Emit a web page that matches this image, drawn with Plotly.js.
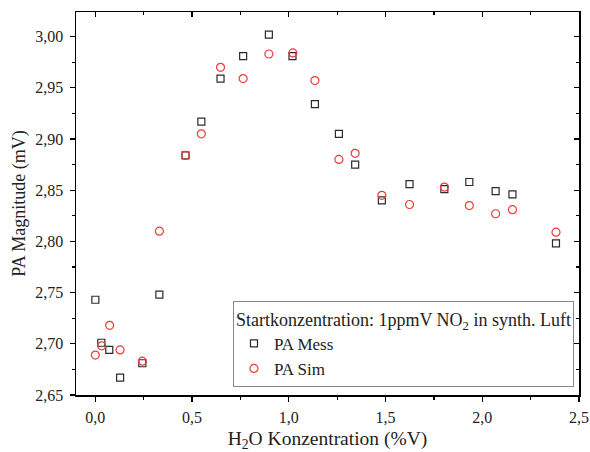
<!DOCTYPE html>
<html><head><meta charset="utf-8">
<script src="https://cdn.plot.ly/plotly-3.0.1.min.js"></script>
<style>html,body{margin:0;padding:0;background:#fff}</style>
</head><body><div id="chart" style="width:590px;height:452px"></div>
<script>
const messX = [0.000,0.031,0.072,0.128,0.243,0.331,0.466,0.548,0.647,0.764,0.897,1.019,1.135,1.259,1.343,1.481,1.624,1.804,1.933,2.069,2.156,2.381];
const messY = [2.743,2.701,2.694,2.667,2.681,2.748,2.884,2.917,2.959,2.981,3.002,2.981,2.934,2.905,2.875,2.840,2.856,2.851,2.858,2.849,2.846,2.798];
const simX  = [0.000,0.033,0.074,0.128,0.243,0.331,0.466,0.548,0.647,0.764,0.897,1.021,1.135,1.259,1.343,1.481,1.624,1.804,1.933,2.069,2.156,2.381];
const simY  = [2.689,2.698,2.718,2.694,2.683,2.810,2.884,2.905,2.970,2.959,2.983,2.984,2.957,2.880,2.886,2.845,2.836,2.853,2.835,2.827,2.831,2.809];
const seriesNames = ['PA Mess','PA Sim'];
const legendTitle = 'Startkonzentration: 1ppmV NO<sub>2</sub> in synth. Luft';
const xTitle = 'H<sub>2</sub>O Konzentration (%V)';
const yTitle = 'PA Magnitude (mV)';

const F = 'Liberation Serif, Times New Roman, serif';
const traces = [
  {x: messX, y: messY, name: seriesNames[0], type:'scatter', mode:'markers',
   marker:{symbol:'square-open', size:7, color:'#2b2b2b', line:{width:1.2}}},
  {x: simX, y: simY, name: seriesNames[1], type:'scatter', mode:'markers',
   marker:{symbol:'circle-open', size:8, color:'#f03a3a', line:{width:1.2}}},
  {x:[null], y:[null], xaxis:'x2', yaxis:'y2', showlegend:false, hoverinfo:'skip'}
];
const xr = [-0.1, 2.5], yr = [2.65, 3.024];
const layout = {
  width:590, height:452,
  margin:{l:76, r:11, t:12, b:57},
  paper_bgcolor:'#fff', plot_bgcolor:'#fff',
  separators:',.',
  font:{family:F, size:16, color:'#222'},
  showlegend:true,
  xaxis:{range:xr, dtick:0.5, tick0:0, tickformat:'.1f', ticks:'outside', ticklen:5, tickwidth:1.3,
    tickcolor:'#000', showline:true, linecolor:'#000', linewidth:1.5, showgrid:false, zeroline:false,
    ticklabelstandoff:2,
    minor:{dtick:0.25, ticks:'outside', ticklen:3, tickcolor:'#000', tickwidth:1.2, showgrid:false},
    tickfont:{family:F, size:16, color:'#222'},
    title:{text:xTitle, font:{family:F, size:19.5, color:'#222'}, standoff:8}},
  yaxis:{range:yr, dtick:0.05, tick0:2.65, tickformat:'.2f', ticks:'outside', ticklen:5, tickwidth:1.3,
    tickcolor:'#000', showline:true, linecolor:'#000', linewidth:1.5, showgrid:false, zeroline:false,
    ticklabelstandoff:3,
    minor:{dtick:0.025, ticks:'outside', ticklen:3, tickcolor:'#000', tickwidth:1.2, showgrid:false},
    tickfont:{family:F, size:16, color:'#222'},
    title:{text:yTitle, font:{family:F, size:18, color:'#222'}, standoff:5}},
  xaxis2:{range:xr, overlaying:'x', side:'top', dtick:0.5, tick0:0, ticks:'inside', ticklen:5, tickwidth:1.3,
    tickcolor:'#000', showline:true, linecolor:'#000', linewidth:1.5, showgrid:false, zeroline:false, showticklabels:false,
    minor:{dtick:0.25, ticks:'inside', ticklen:3, tickcolor:'#000', tickwidth:1.2, showgrid:false}},
  yaxis2:{range:yr, overlaying:'y', side:'right', dtick:0.05, tick0:2.65, ticks:'inside', ticklen:5, tickwidth:1.3,
    tickcolor:'#000', showline:true, linecolor:'#000', linewidth:1.5, showgrid:false, zeroline:false, showticklabels:false,
    minor:{dtick:0.025, ticks:'inside', ticklen:3, tickcolor:'#000', tickwidth:1.2, showgrid:false}},
  legend:{x:0.99, xanchor:'right', y:0.02, yanchor:'bottom', bgcolor:'#fff',
    bordercolor:'#888', borderwidth:1, font:{family:F, size:17, color:'#222'},
    title:{text:legendTitle, font:{family:F, size:18, color:'#222'}},
    tracegroupgap:0}
};
Plotly.newPlot('chart', traces, layout, {displayModeBar:false, staticPlot:true});
</script></body></html>
